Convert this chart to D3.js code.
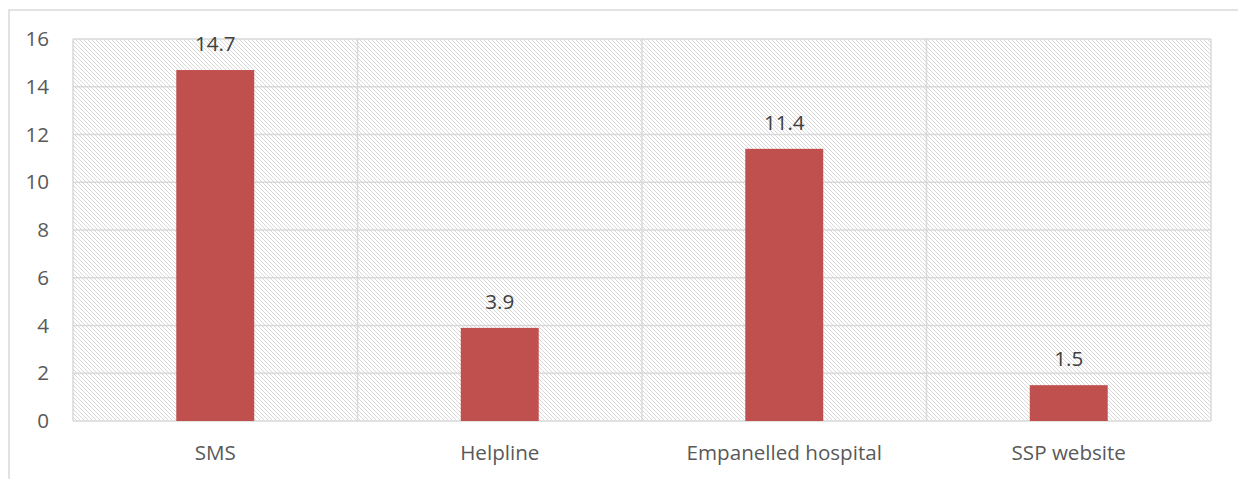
<!DOCTYPE html>
<html><head><meta charset="utf-8">
<script src="https://cdn.jsdelivr.net/npm/d3@7"></script>
<style>body{margin:0;background:#fff;}svg{display:block;font-family:"Open Sans",sans-serif;}</style>
</head><body>
<script>
const categories = ["SMS", "Helpline", "Empanelled hospital", "SSP website"];
const values = [14.7, 3.9, 11.4, 1.5];
const yTicks = [0, 2, 4, 6, 8, 10, 12, 14, 16];

const W = 1238, H = 479;
const m = {left: 73, right: 27, top: 39, bottom: 58};
const FS = 20.6;
const svg = d3.select("body").append("svg").attr("width", W).attr("height", H);

const defs = svg.append("defs");
const pat = defs.append("pattern").attr("id", "hatch").attr("patternUnits", "userSpaceOnUse")
  .attr("width", 4).attr("height", 4);
pat.append("rect").attr("width", 4).attr("height", 4).attr("fill", "#fff");
pat.append("path").attr("d", "M-1,-1 L5,5 M-1,3 L1,5 M3,-1 L5,1").attr("stroke", "#d2d2d2").attr("stroke-width", 0.85);

// outer chart frame
svg.append("path").attr("d", `M9,${H} L9,10 L${W},10`).attr("fill", "none")
  .attr("stroke", "#d9d9d9").attr("stroke-width", 1.5);

const x = d3.scaleBand().domain(categories).range([m.left, W - m.right]).paddingInner(0).paddingOuter(0);
const y = d3.scaleLinear().domain([0, 16]).range([H - m.bottom, m.top]);

const g = svg.append("g");
g.append("rect").attr("x", m.left).attr("y", m.top).attr("width", W - m.right - m.left)
  .attr("height", H - m.bottom - m.top).attr("fill", "url(#hatch)");

// horizontal gridlines
g.selectAll(".hg").data(yTicks).join("line")
  .attr("x1", m.left).attr("x2", W - m.right)
  .attr("y1", d => y(d)).attr("y2", d => y(d))
  .attr("stroke", "#d9d9d9").attr("stroke-width", 1.5);
// vertical gridlines (category boundaries)
const bounds = categories.map(c => x(c)).concat([x.range()[1]]);
g.selectAll(".vg").data(bounds).join("line")
  .attr("x1", d => d).attr("x2", d => d)
  .attr("y1", m.top).attr("y2", H - m.bottom)
  .attr("stroke", "#d9d9d9").attr("stroke-width", 1.5);

// bars
const bw = x.bandwidth() * 0.274;
g.selectAll(".bar").data(values).join("rect")
  .attr("x", (d, i) => x(categories[i]) + x.bandwidth() / 2 - bw / 2)
  .attr("width", bw)
  .attr("y", d => y(d)).attr("height", d => y(0) - y(d))
  .attr("fill", "#C0504D");

// value labels
g.selectAll(".lbl").data(values).join("text")
  .attr("x", (d, i) => x(categories[i]) + x.bandwidth() / 2)
  .attr("y", d => y(d) - 19)
  .attr("text-anchor", "middle").attr("font-size", FS).attr("fill", "#404040")
  .text(d => d.toFixed(1));

// y axis labels
const yAxis = d3.axisLeft(y).tickValues(yTicks).tickSize(0).tickPadding(24).tickFormat(d3.format("d"));
const ya = svg.append("g").attr("transform", `translate(${m.left},0)`).call(yAxis);
ya.select(".domain").remove();
ya.selectAll("text").attr("font-size", FS).attr("fill", "#595959").attr("font-family", "Open Sans, sans-serif");

// x axis labels
const xAxis = d3.axisBottom(x).tickSize(0).tickPadding(24);
const xa = svg.append("g").attr("transform", `translate(0,${H - m.bottom})`).call(xAxis);
xa.select(".domain").remove();
xa.selectAll("text").attr("font-size", FS).attr("fill", "#595959").attr("font-family", "Open Sans, sans-serif");
</script>
</body></html>
